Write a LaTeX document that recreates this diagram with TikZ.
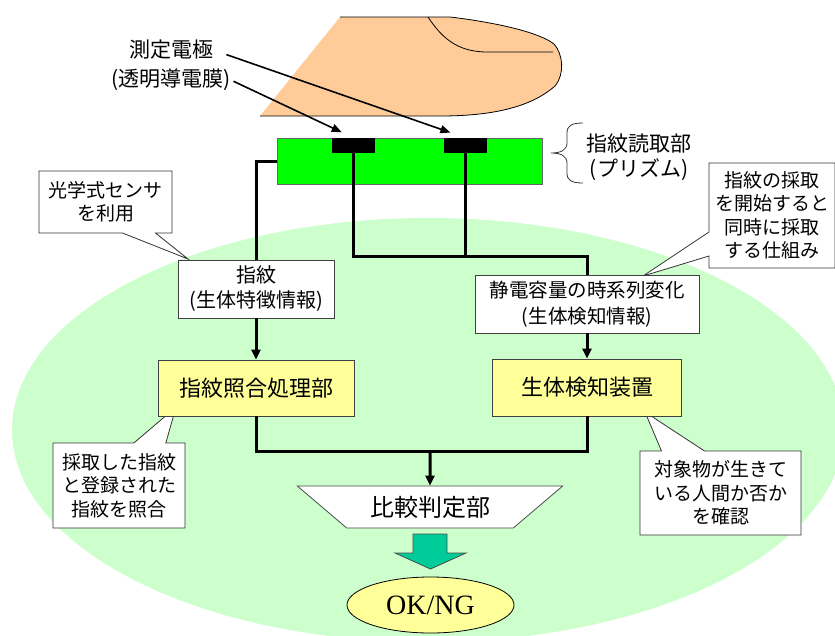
\documentclass[tikz,border=0pt]{standalone}
\usepackage{fontspec}
\setmainfont{Noto Sans CJK JP}
\newfontfamily\okfont{Liberation Serif}
\usetikzlibrary{arrows.meta,shapes.geometric,shapes.callouts,calc}
\newcommand\fsz[2]{\fontsize{#1pt}{#2pt}\selectfont}
\definecolor{skin}{HTML}{FFCC99}
\definecolor{zone}{HTML}{CCFFCC}
\definecolor{prismgreen}{HTML}{00FF00}
\definecolor{unit}{HTML}{FFFF99}
\definecolor{outarrow}{HTML}{00CC99}
\tikzset{
  wire/.style={line width=3pt, line join=miter},
  wirearrow/.style={wire, -{Triangle[length=10pt,width=9pt]}},
  pointer/.style={line width=1.6pt, -{Triangle[length=10pt,width=8pt]}},
  infobox/.style={draw=black!75, fill=white, line width=0.8pt, align=center, inner sep=0pt},
  unitbox/.style={draw=black!75, fill=unit, line width=0.8pt, align=center, inner sep=0pt},
  note/.style={rectangle callout, draw=black!80, fill=white, line width=0.8pt, align=center, inner sep=0pt, font=\fsz{19}{23.5}},
}
\begin{document}
\begin{tikzpicture}[x=1pt,y=-1pt]
\useasboundingbox (0,0) rectangle (835,635);

% pale green zone behind the processing stages
\begin{scope}
\clip (0,0) rectangle (835,635);
\fill[zone] (428,430) ellipse [x radius=416pt, y radius=212pt];
\end{scope}

% fingertip
\fill[skin] (260,116) -- (340,17) -- (450,17)
  .. controls (500,23) and (540,33) .. (554,44)
  .. controls (563,54) and (565,74) .. (555,86)
  .. controls (530,108) and (490,116) .. (440,116) -- cycle;
\draw[line width=0.8pt] (340,17) -- (450,17)
  .. controls (500,23) and (540,33) .. (554,44)
  .. controls (563,54) and (565,74) .. (555,86)
  .. controls (530,108) and (490,116) .. (440,116) -- (260,116);
\draw[line width=0.8pt] (428,17) .. controls (440,35) and (455,52) .. (487,52) -- (553,52);

% prism and electrodes
\node[draw=black!60, fill=prismgreen, line width=0.8pt, minimum width=265pt, minimum height=46pt, inner sep=0pt] (prism) at (409.5,161) {};
\node[fill=black, minimum width=43pt, minimum height=15pt, inner sep=0pt] (e1) at (353.5,145.5) {};
\node[fill=black, minimum width=43pt, minimum height=15pt, inner sep=0pt] (e2) at (465.5,145.5) {};

% electrode labels
\node[font=\fsz{21}{26}, inner sep=0pt] (lblA) at (171,50) {測定電極};
\node[font=\fsz{21}{26}, inner sep=0pt] (lblB) at (171,80) {(透明導電膜)};
\draw[pointer, shorten <=14pt, shorten >=16pt] (lblA.east) -- (e2.north);
\draw[pointer, shorten <=3pt, shorten >=13pt] (lblB.east) -- (e1.north);

% reader brace and label
\draw[line width=0.8pt, black!80] (583,123) .. controls (571,123) and (567,126) .. (567,133) -- (567,143)
  .. controls (567,150) and (561,153) .. (551,153)
  .. controls (561,153) and (567,156) .. (567,163) -- (567,173)
  .. controls (567,180) and (571,183) .. (583,183);
\node[font=\fsz{21}{25}, align=center, inner sep=0pt] (reader) at (639,157) {指紋読取部\\(プリズム)};

% tips of the explanatory notes
\coordinate (tipA) at (188,259);
\coordinate (tipB) at (643,276);
\coordinate (tipC) at (176,407);
\coordinate (tipD) at (645,412);

% explanatory notes
\node[note, minimum width=133pt, minimum height=62pt, callout absolute pointer={(tipA)}, callout pointer width=33pt] (noteA) at (105.5,202) {光学式センサ\\を利用};
\node[note, minimum width=126pt, minimum height=105pt, callout absolute pointer={(tipB)}, callout pointer width=24pt] (noteB) at (772,215.5) {指紋の採取\\を開始すると\\同時に採取\\する仕組み};
\node[note, minimum width=132pt, minimum height=85pt, callout absolute pointer={(tipC)}, callout pointer width=32pt] (noteC) at (119,485.5) {採取した指紋\\と登録された\\指紋を照合};
\node[note, minimum width=161pt, minimum height=84pt, callout absolute pointer={(tipD)}, callout pointer width=43pt] (noteD) at (720.5,493) {対象物が生きて\\いる人間か否か\\を確認};

% information boxes
\node[infobox, font=\fsz{20}{25}, minimum width=156pt, minimum height=58pt] (fp) at (256,289) {指紋\\(生体特徴情報)};
\node[infobox, font=\fsz{19.5}{26}, minimum width=224pt, minimum height=58pt] (cap) at (587,304) {静電容量の時系列変化\\(生体検知情報)};

% processing units
\node[unitbox, font=\fsz{22}{26}, minimum width=196pt, minimum height=56pt] (match) at (256,388) {指紋照合処理部};
\node[unitbox, font=\fsz{22}{26}, minimum width=189pt, minimum height=57pt] (live) at (587,387.5) {生体検知装置};

% comparator
\node[trapezium, trapezium angle=32, shape border rotate=180, trapezium stretches=true,
      draw=black!70, fill=white, line width=0.8pt, minimum width=266pt, minimum height=42pt,
      inner sep=0pt, font=\fsz{24}{28}] (cmp) at (430,507) {比較判定部};

% result
\node[ellipse, draw=black, fill=unit, line width=0.8pt, minimum width=167pt, minimum height=56pt,
      inner sep=0pt, font=\okfont\fsz{28}{32}] (ok) at (430.5,605) {OK/NG};
\draw[line width=0.8pt, draw=black!70, fill=outarrow]
  (413,534) -- (447,534) -- (447,553) -- (466,553) -- (430.5,569) -- (395,553) -- (413,553) -- cycle;

% wiring
\coordinate (busR) at (587,256);
\coordinate (join) at (430,451);
\draw[wire] (prism.west) -| (fp.north);
\draw[wire] (e1.south) -- (e1.south |- busR) -| (cap.north);
\draw[wire] (e2.south) -- (e2.south |- busR);
\draw[wirearrow] (fp.south) -- (match.north);
\draw[wirearrow] (cap.south) -- (live.north);
\draw[wire] (match.south) |- (join) -| (live.south);
\draw[wirearrow] (join) -- (cmp.north);
\end{tikzpicture}
\end{document}
